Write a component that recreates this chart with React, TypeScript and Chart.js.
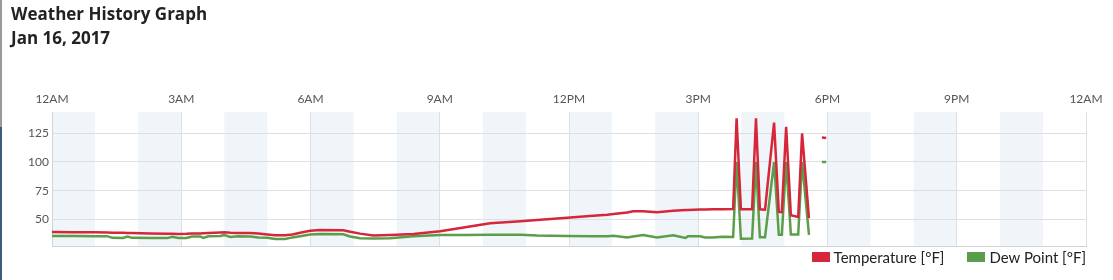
import React, { useEffect, useRef } from 'react';
import { Chart, registerables } from 'chart.js';

Chart.register(...registerables);

// Time of each observation, in hours after midnight (null row = gap in the record)
const hours = [
  0.0, 0.5, 1.0, 1.28, 1.4, 1.65, 1.75, 1.86, 2.28, 2.68, 2.79, 2.93, 3.12, 3.25, 3.44, 3.51,
  3.63, 3.91, 4.0, 4.14, 4.32, 4.6, 4.79, 5.0, 5.18, 5.41, 5.58, 5.76, 5.99, 6.22, 6.76, 6.92,
  7.15, 7.46, 7.85, 8.39, 9.01, 9.59, 10.17, 10.87, 11.26, 11.96, 12.56, 12.89, 13.03, 13.35,
  13.49, 13.72, 14.04, 14.42, 14.7, 14.76, 15.04, 15.16, 15.34, 15.55, 15.81, 15.89, 15.99,
  16.25, 16.34, 16.43, 16.55, 16.76, 16.87, 16.94, 17.04, 17.15, 17.32, 17.41, 17.57, 17.7,
  17.87, 17.97,
];

const temperature: (number | null)[] = [
  39.0, 38.8, 38.6, 38.4, 38.3, 38.2, 38.1, 38.0, 37.6, 37.3, 37.3, 37.2, 37.3, 37.5, 37.7, 37.8,
  38.0, 38.5, 38.6, 38.2, 38.0, 38.0, 37.5, 36.8, 36.1, 36.1, 36.8, 38.2, 40.0, 40.6, 40.4, 39.2,
  37.5, 35.8, 36.4, 37.2, 39.5, 43.0, 46.6, 48.3, 49.3, 51.4, 53.0, 54.0, 54.6, 56.0,
  57.1, 57.0, 56.1, 57.4, 58.1, 58.1, 58.5, 58.6, 58.7, 58.8, 58.9, 138.0, 58.7,
  58.7, 138.0, 58.7, 58.4, 134.3, 56.4, 56.2, 130.7, 53.5, 52.0, 124.9, 51.1, null,
  121.4, 121.0,
];

const dewPoint: (number | null)[] = [
  35.4, 35.4, 35.3, 35.3, 33.8, 33.7, 35.0, 33.8, 33.7, 33.6, 34.8, 33.7, 33.7, 35.0, 35.0, 33.7,
  35.2, 35.4, 36.3, 34.6, 35.1, 35.0, 34.1, 33.9, 32.8, 32.8, 34.2, 35.3, 36.8, 37.2, 37.0, 35.0,
  33.5, 33.2, 33.5, 35.1, 36.3, 36.4, 36.5, 36.6, 35.9, 35.5, 35.1, 35.3, 35.7, 34.2,
  35.0, 36.3, 34.2, 36.0, 33.7, 35.1, 35.1, 34.2, 34.2, 34.8, 34.5, 100.0, 33.1,
  33.3, 100.0, 34.3, 34.3, 100.0, 36.6, 36.6, 100.0, 36.7, 36.7, 100.0, 36.5, null,
  100.0, 100.0,
];

const seriesNames = ['Temperature [°F]', 'Dew Point [°F]'];
const seriesColors = ['#d5263a', '#5b9e49'];

const xTickHours = [0, 3, 6, 9, 12, 15, 18, 21, 24];
const xTickLabels = ['12AM', '3AM', '6AM', '9AM', '12PM', '3PM', '6PM', '9PM', '12AM'];
const yTicks = [50, 75, 100, 125];
const shadedHours = [0, 2, 4, 6, 8, 10, 12, 14, 16, 18, 20, 22];

const FONT = 'Lato, "Open Sans", sans-serif';
const TITLE_FONT = '"Open Sans", Lato, sans-serif';
const GRID = '#dcdfe4';
const BAND = '#f0f5fa';

const bandPlugin = {
  id: 'hourBands',
  beforeDraw(chart: any) {
    const { ctx, chartArea, scales } = chart;
    const x = scales.x;
    ctx.save();
    ctx.fillStyle = BAND;
    shadedHours.forEach((h) => {
      const x0 = x.getPixelForValue(h);
      const x1 = x.getPixelForValue(h + 1);
      ctx.fillRect(x0, chartArea.top, x1 - x0, chartArea.bottom - chartArea.top);
    });
    ctx.restore();
  },
};

export default function App() {
  const ref = useRef<HTMLCanvasElement>(null);

  useEffect(() => {
    document.body.style.margin = '0';
    const canvas = ref.current!;
    const mk = (vals: (number | null)[]) => hours.map((h, i) => ({ x: h, y: vals[i] }));
    const chart = new Chart(canvas, {
      type: 'line',
      data: {
        datasets: [
          {
            label: seriesNames[0],
            data: mk(temperature),
            borderColor: seriesColors[0],
            backgroundColor: seriesColors[0],
            borderWidth: 2.5,
            pointRadius: 0,
            tension: 0,
            spanGaps: false,
            xAxisID: 'x',
            yAxisID: 'y',
          },
          {
            label: seriesNames[1],
            data: mk(dewPoint),
            borderColor: seriesColors[1],
            backgroundColor: seriesColors[1],
            borderWidth: 2.5,
            pointRadius: 0,
            tension: 0,
            spanGaps: false,
            xAxisID: 'x',
            yAxisID: 'y',
          },
        ],
      },
      options: {
        animation: false,
        responsive: false,
        layout: { padding: { left: 0, right: 27, top: 0, bottom: 0 } },
        plugins: { legend: { display: false }, tooltip: { enabled: false } },
        scales: {
          x: {
            type: 'linear',
            position: 'top',
            min: 0,
            max: 24,
            afterFit: (s: any) => {
              s.height = 112;
            },
            afterBuildTicks: (s: any) => {
              s.ticks = xTickHours.map((v) => ({ value: v }));
            },
            ticks: {
              autoSkip: false,
              maxRotation: 0,
              padding: 6,
              color: '#555',
              font: { family: FONT, size: 12 },
              callback: (v: any) => {
                const i = xTickHours.indexOf(Number(v));
                return i >= 0 ? xTickLabels[i] : '';
              },
            },
            grid: { color: GRID, drawTicks: false, lineWidth: 1 },
            border: { display: false },
          },
          xb: {
            type: 'linear',
            position: 'bottom',
            min: 0,
            max: 24,
            afterFit: (s: any) => {
              s.height = 34;
            },
            ticks: { display: false },
            grid: { display: false },
            border: { display: true, color: '#d0d3d8', width: 1 },
          },
          y: {
            type: 'linear',
            position: 'left',
            min: 26.7,
            max: 143.6,
            afterFit: (s: any) => {
              s.width = 52;
            },
            afterBuildTicks: (s: any) => {
              s.ticks = yTicks.map((v) => ({ value: v }));
            },
            ticks: {
              padding: 3,
              color: '#555',
              font: { family: FONT, size: 12 },
            },
            grid: { color: GRID, drawTicks: false, lineWidth: 1 },
            border: { display: true, color: '#d0d3d8', width: 1 },
          },
        },
      },
      plugins: [bandPlugin],
    } as any);
    return () => chart.destroy();
  }, []);

  return (
    <div style={{ position: 'relative', width: 1113, height: 280, overflow: 'hidden', background: '#fff' }}>
      <canvas ref={ref} width={1113} height={280} style={{ position: 'absolute', left: 0, top: 0 }} />
      <div style={{ position: 'absolute', left: 0, top: 0, width: 2, height: 127, background: '#9a9a9a' }} />
      <div style={{ position: 'absolute', left: 0, top: 127, width: 2, height: 153, background: '#3e5a7e' }} />
      <div
        style={{
          position: 'absolute',
          left: 11,
          top: 2,
          fontFamily: TITLE_FONT,
          fontWeight: 700,
          fontSize: 17,
          lineHeight: '23.5px',
          color: '#222',
          whiteSpace: 'nowrap',
        }}
      >
        Weather History Graph
        <br />
        Jan 16, 2017
      </div>
      <div
        style={{
          position: 'absolute',
          right: 27,
          top: 248,
          display: 'flex',
          alignItems: 'center',
          fontFamily: FONT,
          fontSize: 15,
          lineHeight: '18px',
          color: '#222',
          whiteSpace: 'nowrap',
        }}
      >
        {seriesNames.map((n, i) => (
          <div key={n} style={{ display: 'flex', alignItems: 'center', marginLeft: i === 0 ? 0 : 23 }}>
            <span style={{ display: 'inline-block', width: 18, height: 10, background: seriesColors[i], marginRight: 4 }} />
            <span>{n}</span>
          </div>
        ))}
      </div>
    </div>
  );
}
